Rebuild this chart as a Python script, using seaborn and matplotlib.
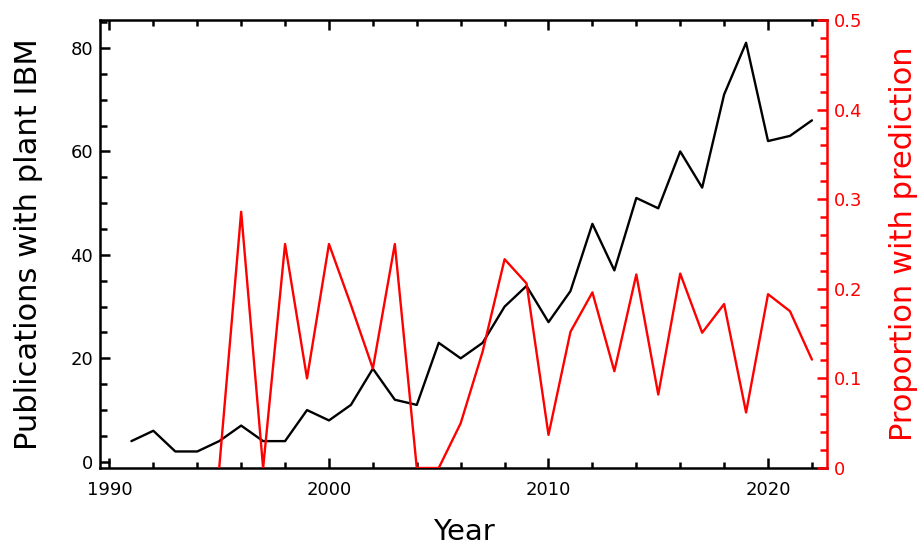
import matplotlib
matplotlib.use("Agg")
import matplotlib.pyplot as plt
from matplotlib.ticker import MultipleLocator
import seaborn as sns
import numpy as np
import pandas as pd

# Data
years = list(range(1991, 2023))
publications = [4, 6, 2, 2, 4, 7, 4, 4, 10, 8, 11, 18, 12, 11, 23, 20,
                23, 30, 34, 27, 33, 46, 37, 51, 49, 60, 53, 71, 81, 62, 63, 66]
proportion = [np.nan, np.nan, np.nan, np.nan, 0.0, 0.286, 0.0, 0.25, 0.10, 0.25,
              0.182, 0.111, 0.25, 0.0, 0.0, 0.05, 0.13, 0.233, 0.206, 0.037,
              0.152, 0.196, 0.108, 0.216, 0.082, 0.217, 0.151, 0.183, 0.062,
              0.194, 0.175, 0.121]

df = pd.DataFrame({"year": years, "pubs": publications, "prop": proportion})

sns.set_style("white")
plt.rcParams['font.family'] = ['DejaVu Sans']

fig = plt.figure(figsize=(9.2, 5.51), dpi=100)
ax = fig.add_axes([0.1087, 0.1506, 0.7903, 0.8131])
ax2 = ax.twinx()

sns.lineplot(data=df, x="year", y="pubs", ax=ax, color="black", linewidth=1.7)
sns.lineplot(data=df.dropna(), x="year", y="prop", ax=ax2, color="red", linewidth=1.7)

ax.set_xlim(1989.57, 2022.69)
ax.set_ylim(-1.2, 85.4)
ax2.set_ylim(0, 0.5)

ax.xaxis.set_major_locator(MultipleLocator(10))
ax.xaxis.set_minor_locator(MultipleLocator(2))
ax.yaxis.set_major_locator(MultipleLocator(20))
ax.yaxis.set_minor_locator(MultipleLocator(5))
ax2.yaxis.set_major_locator(MultipleLocator(0.1))
ax2.yaxis.set_minor_locator(MultipleLocator(0.02))
ax2.yaxis.set_major_formatter(plt.FuncFormatter(lambda v, p: "0" if v == 0 else f"{v:.1f}"))

ax.tick_params(axis="x", which="both", direction="in", top=True, bottom=True,
               labelsize=13, pad=9, colors="black")
ax.tick_params(axis="x", which="major", length=7, width=1.8)
ax.tick_params(axis="x", which="minor", length=4, width=1.8)
ax.tick_params(axis="y", which="both", direction="in", left=True, right=False,
               labelsize=13, pad=5, colors="black")
ax.tick_params(axis="y", which="major", length=7, width=1.8)
ax.tick_params(axis="y", which="minor", length=5, width=1.8)
ax2.tick_params(axis="y", which="both", direction="in", colors="red",
                labelsize=13, pad=5)
ax2.tick_params(axis="y", which="major", length=7, width=1.8)
ax2.tick_params(axis="y", which="minor", length=5, width=1.8)

for s in ["left", "top", "bottom"]:
    ax.spines[s].set_linewidth(1.8)
    ax.spines[s].set_color("black")
ax.spines["right"].set_visible(False)
for s in ["left", "top", "bottom"]:
    ax2.spines[s].set_visible(False)
ax2.spines["right"].set_linewidth(1.8)
ax2.spines["right"].set_color("red")

ax.set_xlabel("Year", fontsize=21, color="black")
ax.set_ylabel("Publications with plant IBM", fontsize=22, color="black")
ax2.set_ylabel("Proportion with prediction", fontsize=22, color="red")
ax.xaxis.set_label_coords(0.5, -0.112)
ax.yaxis.set_label_coords(-0.078, 0.5)
ax2.yaxis.set_label_coords(1.085, 0.5)

fig.savefig("out.png", dpi=100)
